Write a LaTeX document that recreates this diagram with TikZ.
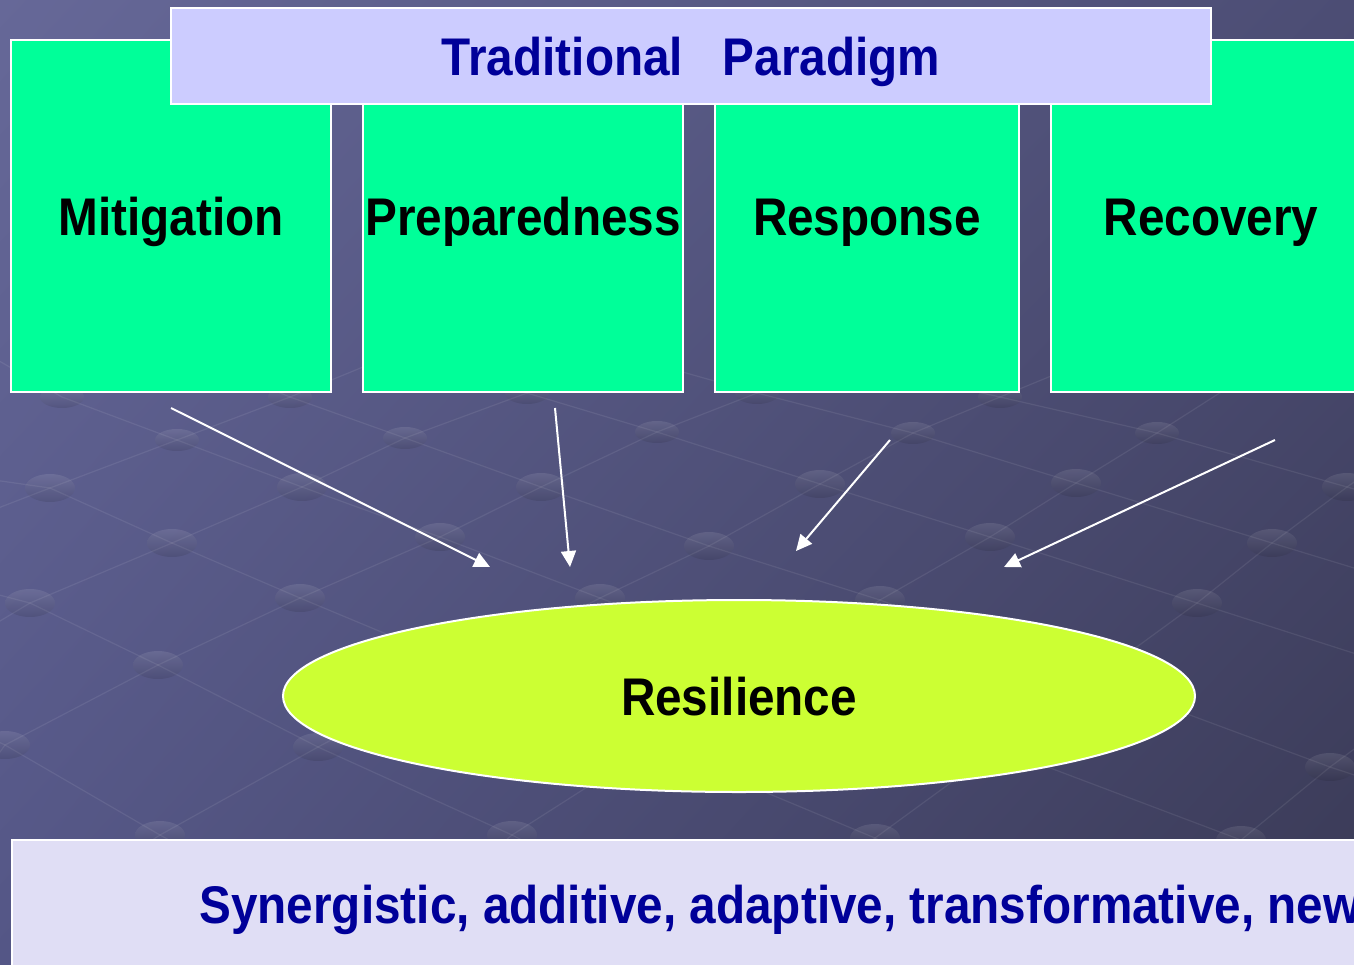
\documentclass[tikz,border=0pt]{standalone}
\usepackage{fontspec}
\setmainfont[FakeStretch=0.9]{Liberation Sans}
\usetikzlibrary{arrows.meta,shapes.geometric,shadings}
\definecolor{stagegreen}{HTML}{00FF99}
\definecolor{titlelilac}{HTML}{CCCCFF}
\definecolor{limegreen}{HTML}{CCFF33}
\definecolor{barlilac}{HTML}{E0DEF5}
\definecolor{navytext}{HTML}{000099}
\definecolor{slateUL}{RGB}{102,104,152}
\definecolor{slateUR}{RGB}{76,77,116}
\definecolor{slateLL}{RGB}{84,86,134}
\definecolor{slateLR}{RGB}{58,58,86}
\tikzset{
  bigtext/.style={font=\fontsize{26.5}{30}\selectfont\bfseries,text height=19pt,text depth=0pt},
  stage/.style={draw=white,line width=1pt,fill=stagegreen,inner sep=0pt,
    minimum width=160pt,minimum height=176pt,bigtext},
  gridline/.style={draw=white,opacity=0.08,line width=0.6pt},
  gridknob/.style={top color=white,bottom color=black,opacity=0.1},
  flow/.style={draw=white,line width=1pt,-{Triangle[length=8pt,width=7.5pt]}}
}
\begin{document}
\begin{tikzpicture}[x=0.5pt,y=-0.5pt]
\useasboundingbox (0,0) rectangle (1354,964);
% backdrop
\shade[upper left=slateUL,upper right=slateUR,lower left=slateLL,lower right=slateLR]
  (0,0) rectangle (1354,964);
\draw[gridline] (-20,350) -- (62,397) -- (177,440) -- (302,487) -- (440,537) -- (600,598) -- (1241,840) -- (1400,900);
\draw[gridline] (200,360) -- (290,397) -- (405,438) -- (541,487) -- (709,546) -- (880,600) -- (1330,767) -- (1400,790);
\draw[gridline] (420,360) -- (527,393) -- (657,432) -- (820,484) -- (990,537) -- (1197,603) -- (1400,668);
\draw[gridline] (640,360) -- (757,393) -- (913,433) -- (1076,483) -- (1272,543) -- (1400,582);
\draw[gridline] (880,370) -- (1000,397) -- (1157,433) -- (1347,487) -- (1400,502);
\draw[gridline] (-20,478) -- (50,488) -- (172,543) -- (300,598) -- (875,838) -- (1000,900);
\draw[gridline] (-20,590) -- (30,603) -- (158,665) -- (318,747) -- (512,835) -- (620,890);
\draw[gridline] (-20,733) -- (5,745) -- (160,835) -- (260,890);
\draw[gridline] (-20,515) -- (50,488) -- (177,440) -- (290,397) -- (380,360);
\draw[gridline] (-20,633) -- (30,603) -- (172,543) -- (302,487) -- (405,438) -- (527,393) -- (620,355);
\draw[gridline] (-20,780) -- (5,745) -- (158,665) -- (300,598) -- (440,537) -- (541,487) -- (657,432) -- (757,393) -- (850,355);
\draw[gridline] (60,900) -- (160,835) -- (318,747) -- (600,598) -- (709,546) -- (820,484) -- (913,433) -- (1000,397) -- (1090,360);
\draw[gridline] (470,870) -- (512,835) -- (880,600) -- (990,537) -- (1076,483) -- (1157,433) -- (1240,380);
\draw[gridline] (830,870) -- (875,838) -- (1197,603) -- (1272,543) -- (1347,487) -- (1400,450);
\draw[gridline] (1200,880) -- (1241,840) -- (1330,767) -- (1400,715);
\foreach \kx/\ky in {62/397,177/440,290/397,405/438,527/393,657/432,757/393,913/433,1000/397,1157/433}
  \shade[gridknob] (\kx,\ky) ellipse [x radius=11pt,y radius=5.5pt];
\foreach \kx/\ky in {302/487,541/487,820/484,1076/483,1347/487,50/488,172/543,440/537,709/546,990/537,
  1272/543,30/603,300/598,600/598,880/600,1197/603,158/665,5/745,318/747,1330/767,160/835,512/835,875/838,1241/840}
  \shade[gridknob] (\kx,\ky) ellipse [x radius=12.5pt,y radius=7pt];
% the four phases
\node[stage] (mitigation) at (171,216) {Mitigation};
\node[stage] (preparedness) at (523,216) {Preparedness};
\node[stage,minimum width=152pt] (response) at (867,216) {Response};
\node[stage] (recovery) at (1211,216) {Recovery};
\node[draw=white,line width=1pt,fill=titlelilac,minimum width=520pt,minimum height=48pt,
  text=navytext,bigtext] (paradigm) at (691,56) {Traditional\hspace{0.75em}Paradigm};
\node[ellipse,draw=white,line width=1pt,fill=limegreen,inner sep=0pt,
  minimum width=456pt,minimum height=96pt,bigtext] (resilience) at (739,696) {Resilience};
\node[draw=white,line width=1pt,fill=barlilac,anchor=north west,
  minimum width=720pt,minimum height=80pt] (synbar) at (11,839) {};
\node[anchor=base west,inner sep=0pt,text=navytext,bigtext] (syntext) at (199,923)
  {Synergistic, additive, adaptive, transformative, new};
% arrows
\coordinate (mitFoot) at (171,408);
\coordinate (prepFoot) at (555,408);
\coordinate (respFoot) at (890,440);
\coordinate (recFoot) at (1275,440);
\coordinate (mitTip) at (490,567);
\coordinate (prepTip) at (570,567);
\coordinate (respTip) at (796,551);
\coordinate (recTip) at (1004,567);
\draw[flow] (mitFoot) -- (mitTip);
\draw[flow] (prepFoot) -- (prepTip);
\draw[flow] (respFoot) -- (respTip);
\draw[flow] (recFoot) -- (recTip);
\end{tikzpicture}
\end{document}
